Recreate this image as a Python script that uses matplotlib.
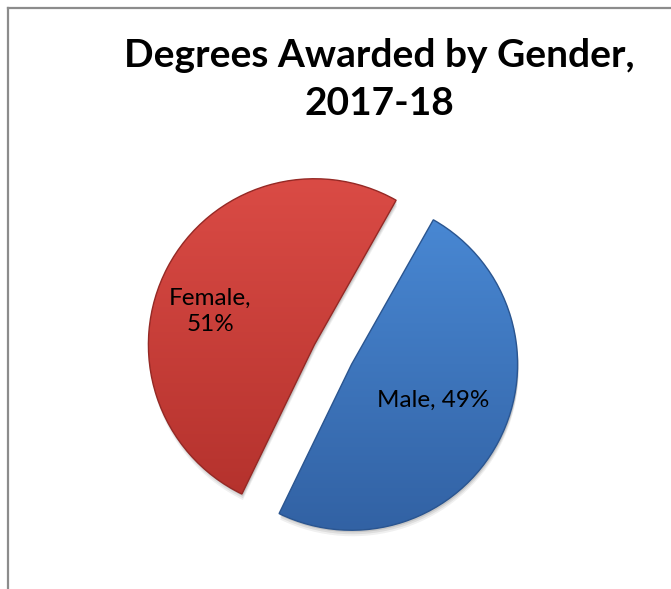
import numpy as np
import matplotlib.pyplot as plt
from matplotlib.lines import Line2D
from matplotlib.colors import LinearSegmentedColormap
from matplotlib.patches import Wedge

# data
categories = ["Male", "Female"]
shares = [49, 51]
title = "Degrees Awarded by Gender,\n2017-18"

colors = ["#3F78C2", "#CF3F3B"]
grad_colors = [("#4A8AD6", "#3262A4"), ("#DA4B45", "#B3312C")]
edge_colors = ["#2A5590", "#952925"]
label_dist = [0.54, 0.66]
label_rot = [4, 10]

plt.rcParams['font.family'] = ['Lato', 'DejaVu Sans']

fig = plt.figure(figsize=(6.71, 5.89), dpi=100)
ax = fig.add_axes([0, 0, 1, 1])

center = (333, 234.5)
radius = 166
gap = 21  # explode offset in data units (pie does not scale it by radius)
wedges, _ = ax.pie(shares, colors=colors, startangle=60.5, counterclock=False,
                   explode=[gap, gap], center=center, radius=radius,
                   wedgeprops=dict(edgecolor="none"))

# pie() resets the limits, so set them afterwards
ax.set_xlim(0, 671)
ax.set_ylim(0, 589)
ax.set_aspect('equal')
ax.axis('off')

# vertical shading inside each slice + soft shadow
grad = np.linspace(0, 1, 256).reshape(-1, 1)
for w, (c_top, c_bot), ec in zip(wedges, grad_colors, edge_colors):
    cx, cy = w.center
    for k, a in [(6, 0.06), (4, 0.08), (2, 0.10)]:
        sh = Wedge((cx + 1, cy - k), radius, w.theta1, w.theta2,
                   facecolor='#000000', alpha=a, edgecolor='none', zorder=0.5)
        ax.add_patch(sh)
    cmap = LinearSegmentedColormap.from_list("g", [c_top, c_bot])
    im = ax.imshow(grad, cmap=cmap, aspect='auto', origin='upper',
                   extent=[cx - radius, cx + radius, cy - radius, cy + radius],
                   zorder=1)
    im.set_clip_path(w)
    w.set_facecolor('none')
    w.set_edgecolor(ec)
    w.set_linewidth(1.0)
    w.set_zorder(2)

ax.set_xlim(0, 671)
ax.set_ylim(0, 589)

# data labels
for i, w in enumerate(wedges):
    mid = np.deg2rad((w.theta1 + w.theta2) / 2 + label_rot[i])
    cx, cy = w.center
    r = radius * label_dist[i]
    x = cx + r * np.cos(mid)
    y = cy + r * np.sin(mid)
    if categories[i] == "Female":
        txt = f"{categories[i]},\n{shares[i]}%"
    else:
        txt = f"{categories[i]}, {shares[i]}%"
    ax.text(x, y, txt, ha='center', va='center', fontsize=17.5,
            color='black', linespacing=1.25, zorder=3)

fig.text(0.565, 0.865, title, ha='center', va='center', fontsize=28,
         fontweight='bold', linespacing=1.45)

# chart border (top and left visible)
fig.add_artist(Line2D([7.5 / 671, 1], [1 - 7.5 / 589] * 2, transform=fig.transFigure,
                      color='#8c8c8c', lw=1.6))
fig.add_artist(Line2D([7.5 / 671] * 2, [0, 1 - 7.5 / 589], transform=fig.transFigure,
                      color='#8c8c8c', lw=1.6))

fig.savefig("out.png", dpi=100)
